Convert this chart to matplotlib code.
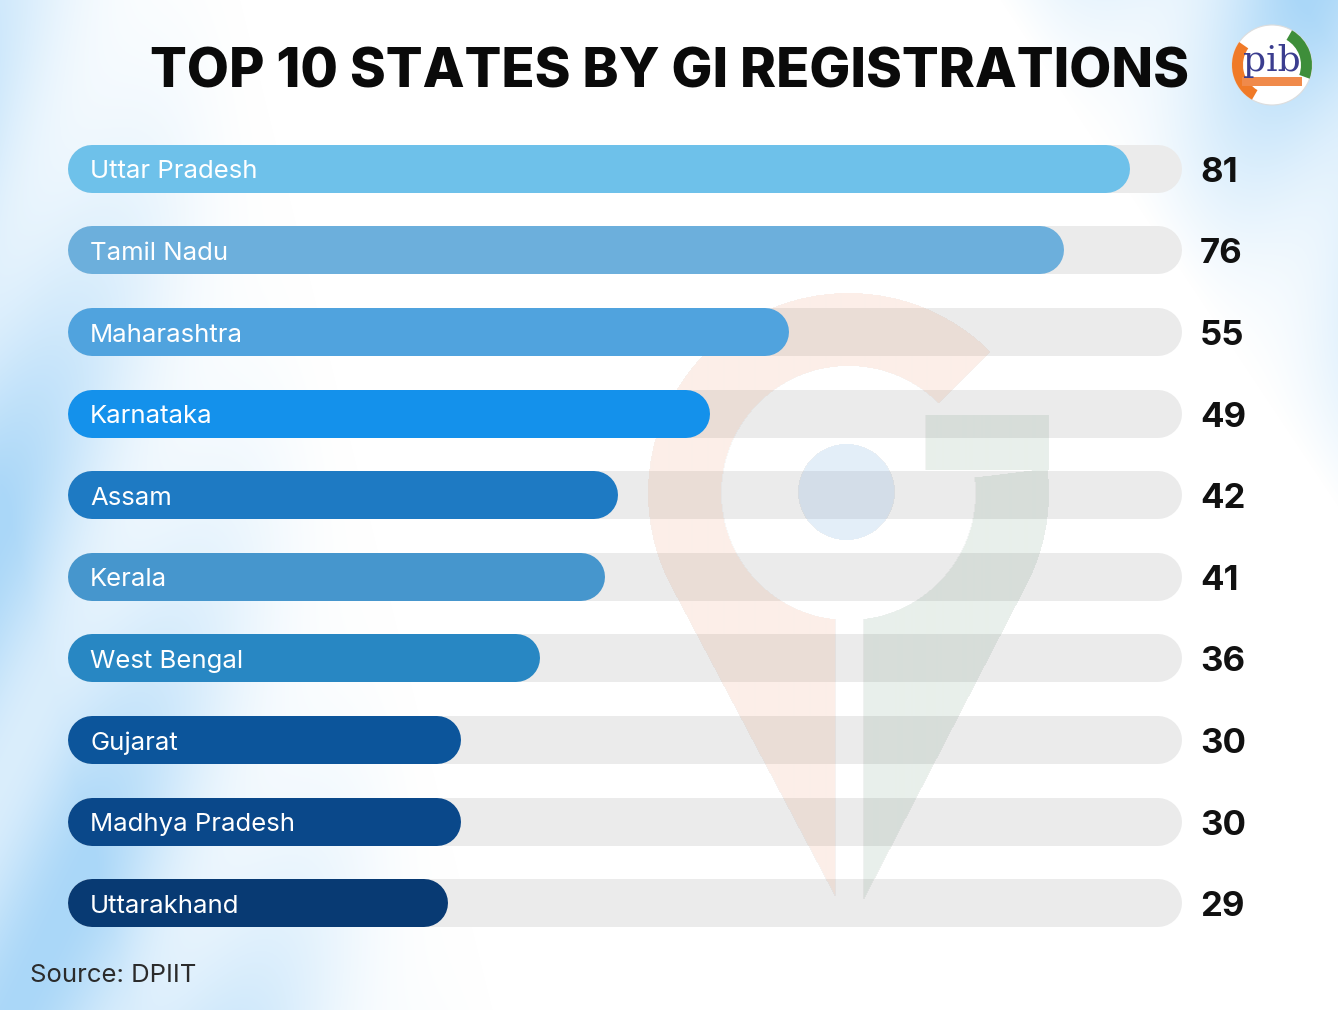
import numpy as np
import matplotlib
matplotlib.use("Agg")
import matplotlib.pyplot as plt
from matplotlib.patches import Circle, Wedge, Rectangle

states = ["Uttar Pradesh", "Tamil Nadu", "Maharashtra", "Karnataka", "Assam",
          "Kerala", "West Bengal", "Gujarat", "Madhya Pradesh", "Uttarakhand"]
gi_counts = [81, 76, 55, 49, 42, 41, 36, 30, 30, 29]
bar_colors = ["#6EC1EA", "#6CAFDC", "#50A3DE", "#1491EB", "#1E7AC3",
              "#4696CD", "#2887C3", "#0C559B", "#0A488A", "#083A73"]
title = "TOP 10 STATES BY GI REGISTRATIONS"
source = "Source: DPIIT"

W, H = 1338, 1010
TRACK_MAX = 85
FONT = "Inter"

fig = plt.figure(figsize=(W / 100, H / 100), dpi=100)

# ---- background: white with soft blue diagonal glow ----
yy, xx = np.mgrid[0:H, 0:W].astype(float)
left = np.clip(1 - (xx - 0.25 * yy + 120) / 360, 0, 1) ** 1.5
right = np.clip((xx - 1000) / 300 - yy / 450, 0, 1)
stripes = 0.72 + 0.28 * np.cos(2 * np.pi * (xx + 0.5 * yy) / 260)
tint = np.clip((left + right) * stripes, 0, 1)[..., None]
white = np.array([1.0, 1.0, 1.0])
blue = np.array([170, 215, 248]) / 255
bg_img = white * (1 - tint) + blue * tint

bg = fig.add_axes([0, 0, 1, 1], zorder=0)
bg.imshow(bg_img, extent=(0, W, H, 0), aspect="auto", interpolation="bilinear")
bg.set_xlim(0, W)
bg.set_ylim(H, 0)
bg.axis("off")

# ---- main bar axes (pixel box 68..1182 x 128..944) ----
ax_l, ax_r, ax_t, ax_b = 68, 1182, 128, 944
ax = fig.add_axes([ax_l / W, 1 - ax_b / H, (ax_r - ax_l) / W, (ax_b - ax_t) / H], zorder=1)
ax.patch.set_visible(False)
ax.set_xlim(0, TRACK_MAX)
ax.set_ylim(len(states) - 0.5, -0.5)
ax.axis("off")

bar_px = 48
lw = bar_px * 72 / 100
cap = (bar_px / 2) * TRACK_MAX / (ax_r - ax_l)

for i, (name, val, col) in enumerate(zip(states, gi_counts, bar_colors)):
    ax.plot([cap, TRACK_MAX - cap], [i, i], color="#EBEBEB", lw=lw,
            solid_capstyle="round", zorder=1)
    ax.plot([cap, val - cap], [i, i], color=col, lw=lw,
            solid_capstyle="round", zorder=3)
    ax.annotate(name, xy=(0, i), xytext=(22, -3), textcoords="offset pixels",
                ha="left", va="center", color="white", fontsize=18.5,
                family=FONT, zorder=4)
    ax.annotate(str(val), xy=(TRACK_MAX, i), xytext=(18, -4), textcoords="offset pixels",
                ha="left", va="center", color="#111111", fontsize=25,
                fontweight="bold", family=FONT, zorder=4)


# ---- faint GI pin watermark, drawn between tracks and bars ----
def px2x(p):
    return (p - ax_l) / (ax_r - ax_l) * TRACK_MAX


def px2y(p):
    return -0.5 + (p - ax_t) / (ax_b - ax_t) * len(states)


x0, x1, y0, y1 = 600, 1100, 280, 940
gy, gx = np.mgrid[y0:y1, x0:x1].astype(float) + 0.5
cx, cy, R, rin = 848, 493, 200, 127
tx, ty = 850, 925
dx, dy = gx - cx, gy - cy
rr = np.hypot(dx, dy)
d = np.hypot(tx - cx, ty - cy)
ang = np.arcsin(R / d)
vx, vy = (cx - tx) / d, (cy - ty) / d
qx, qy = gx - tx, gy - ty
proj = qx * vx + qy * vy
perp = np.abs(qx * vy - qy * vx)
cone = (proj > 0) & (perp <= proj * np.tan(ang)) & (proj <= (d * d - R * R) / d)
pin = ((rr <= R) | cone) & (rr > rin)
theta = np.degrees(np.arctan2(-dy, dx))
gap = (np.abs(gx - 849) < 14) & (gy > cy)
orange = pin & ((theta >= 45) | (theta < -90)) & ~gap
green = pin & (theta >= -90) & (theta <= 7) & ~gap
green |= (gx >= 925) & (gx <= 1048) & (gy >= 415) & (gy <= 470)
dot = np.hypot(gx - 846, gy - 492) <= 48

wm = np.zeros(gx.shape + (4,))
wm[orange] = [232 / 255, 130 / 255, 80 / 255, 0.13]
wm[green] = [90 / 255, 140 / 255, 110 / 255, 0.14]
wm[dot] = [100 / 255, 160 / 255, 220 / 255, 0.18]
ax.imshow(wm, extent=(px2x(x0), px2x(x1), px2y(y1), px2y(y0)), aspect="auto",
          interpolation="bilinear", zorder=2)
ax.set_xlim(0, TRACK_MAX)
ax.set_ylim(len(states) - 0.5, -0.5)

# ---- title, fitted to the reference width ----
t = fig.text(0.5, 1 - 73 / H, title, ha="center", va="center", fontsize=40,
             fontweight="heavy", family=FONT, color="#0A0A0A")
fig.canvas.draw()
w = t.get_window_extent().width
t.set_fontsize(40 * 1038 / w)

# ---- small PIB badge top right ----
lx, ly, lr = 1272, 65, 40
bg.add_patch(Circle((lx, ly), lr, facecolor="white", edgecolor="#DDDDDD", lw=0.8, zorder=3))
bg.add_patch(Wedge((lx, ly), lr, 120, 215, width=11, facecolor="#F07A28", zorder=4))
bg.add_patch(Wedge((lx, ly), lr, 300, 20, width=11, facecolor="#3E8E3A", zorder=4))
bg.add_patch(Rectangle((lx - 30, ly + 12), 60, 9, facecolor="#F08A4B", zorder=4))
bg.text(lx, ly - 4, "pib", ha="center", va="center", fontsize=26, color="#3B3D8F",
        family="DejaVu Serif", zorder=5)

fig.text(30 / W, 1 - 976 / H, source, ha="left", va="center", fontsize=18.5,
         color="#2B2B2B", family=FONT)

fig.savefig("out.png", dpi=100)
